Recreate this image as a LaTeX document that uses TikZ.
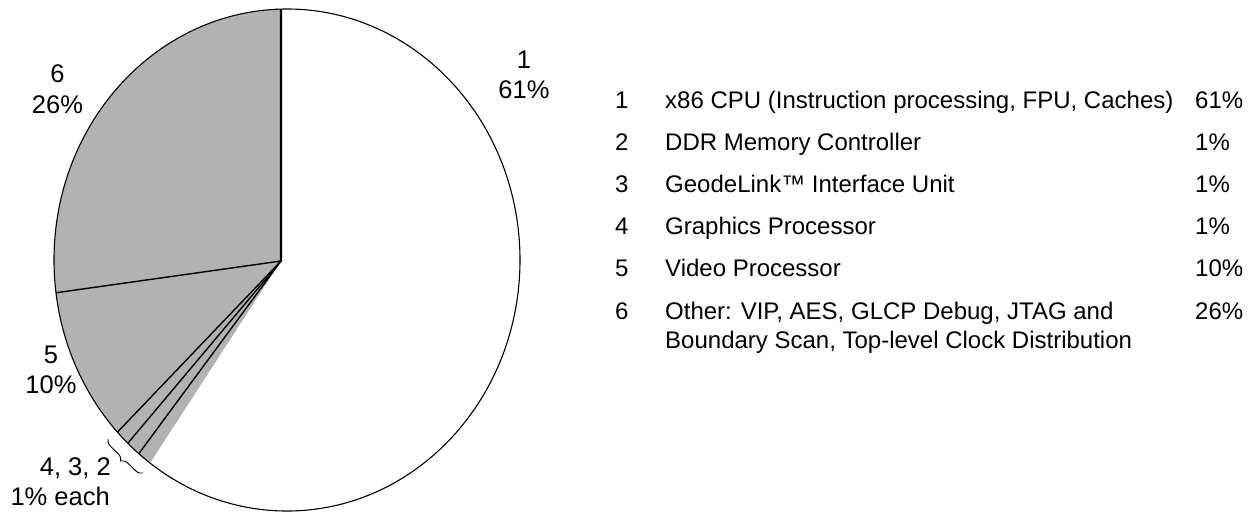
\documentclass[tikz,border=0pt]{standalone}
\usepackage{fontspec}
\setmainfont{Liberation Sans}
\usetikzlibrary{calc,decorations.pathreplacing}
\definecolor{piegray}{RGB}{178,178,178}
\begin{document}
\begin{tikzpicture}[x=1pt,y=1pt,
  piefont/.style={font=\fontsize{25.5}{30}\selectfont, inner sep=0pt},
  legfont/.style={font=\fontsize{24}{28}\selectfont, inner sep=0pt, anchor=base west},
  rim/.style={line width=1.1pt},
  cut/.style={line width=1.4pt},
  bracestyle/.style={line width=0.9pt, decorate, decoration={brace, amplitude=7pt}},
]
\useasboundingbox (0,0) rectangle (1249,-512);

% pie geometry: rim ellipse and the apex of the slices
\coordinate (C) at (287,-260);
\coordinate (P) at (281,-261);
\coordinate (top) at ($(C)+(91.48:233pt and 251pt)$);
\coordinate (b56) at ($(C)+(187.5:233pt and 251pt)$);
\coordinate (b54) at ($(C)+(223.3:233pt and 251pt)$);
\coordinate (b43) at ($(C)+(226.9:233pt and 251pt)$);
\coordinate (b32) at ($(C)+(230.5:233pt and 251pt)$);

% grey slices 2-6, slice 1 stays white
\fill[piegray] (P) -- (top) arc[start angle=91.48, end angle=234, x radius=233pt, y radius=251pt] -- cycle;
\draw[rim] (C) ellipse [x radius=233pt, y radius=251pt];
\draw[cut] (P) -- (b56);
\draw[cut] (P) -- (b54);
\draw[cut] (P) -- (b43);
\draw[cut] (P) -- (b32);
\draw[line width=2.2pt] (P) -- (top);

% slice labels
\node[piefont, anchor=base] (n1) at (524,-68) {1};
\node[piefont, anchor=base] (p1) at (524,-98) {61\%};
\node[piefont, anchor=base] (n6) at (57.5,-82) {6};
\node[piefont, anchor=base] (p6) at (57.5,-113) {26\%};
\node[piefont, anchor=base] (n5) at (51,-363) {5};
\node[piefont, anchor=base] (p5) at (51,-393) {10\%};
\node[piefont, anchor=base east] (n432) at (111,-475) {4, 3, 2};
\node[piefont, anchor=base east] (p432) at (110,-505) {1\% each};

% brace over the three small slices
\coordinate (br1) at (143,-473);
\coordinate (br2) at (108,-439);
\draw[bracestyle] (br1) -- (br2);

% legend
\node[legfont] (k1) at (615,-108) {1};
\node[legfont] (t1) at (665,-108) {x86 CPU (Instruction processing, FPU, Caches)};
\node[legfont] (v1) at (1195,-108) {61\%};
\node[legfont] (k2) at (615,-150) {2};
\node[legfont] (t2) at (665,-150) {DDR Memory Controller};
\node[legfont] (v2) at (1195,-150) {1\%};
\node[legfont] (k3) at (615,-192) {3};
\node[legfont] (t3) at (665,-192) {GeodeLink™ Interface Unit};
\node[legfont] (v3) at (1195,-192) {1\%};
\node[legfont] (k4) at (615,-234.5) {4};
\node[legfont] (t4) at (665,-234.5) {Graphics Processor};
\node[legfont] (v4) at (1195,-234.5) {1\%};
\node[legfont] (k5) at (615,-276.5) {5};
\node[legfont] (t5) at (665,-276.5) {Video Processor};
\node[legfont] (v5) at (1195,-276.5) {10\%};
\node[legfont] (k6) at (615,-319.5) {6};
\node[legfont] (t6) at (665,-319.5) {Other: VIP, AES, GLCP Debug, JTAG and};
\node[legfont] (t6b) at (665,-348) {Boundary Scan, Top-level Clock Distribution};
\node[legfont] (v6) at (1195,-319.5) {26\%};
\end{tikzpicture}
\end{document}
